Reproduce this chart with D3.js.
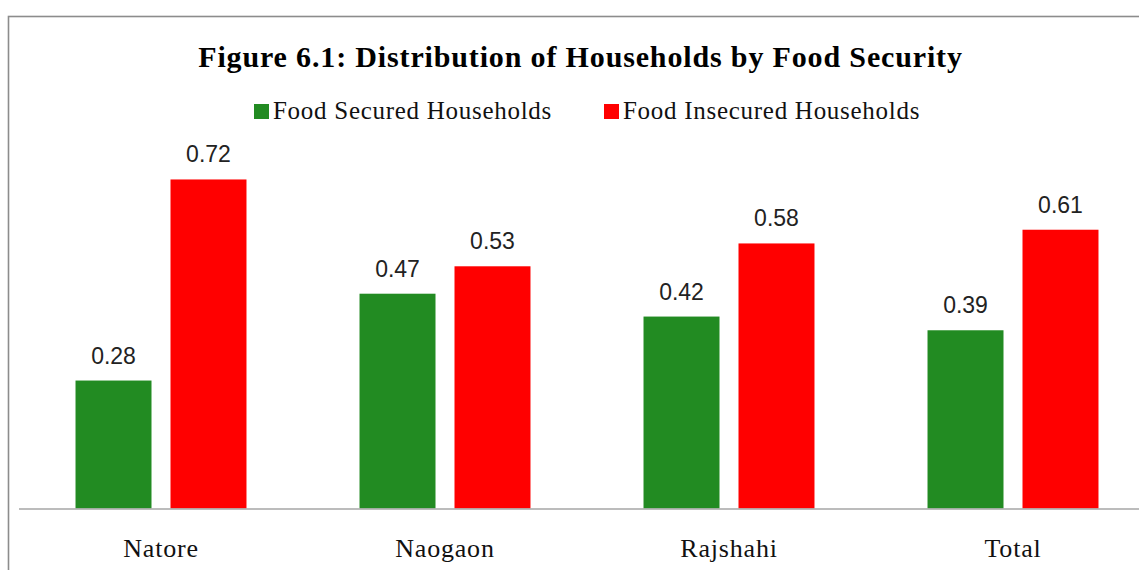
<!DOCTYPE html>
<html><head><meta charset="utf-8">
<script src="https://cdn.jsdelivr.net/npm/d3@7"></script>
<style>html,body{margin:0;padding:0;background:#fff;}svg{display:block;}</style>
</head><body>
<svg id="chart" width="1139" height="570"></svg>
<script>
const categories = ["Natore", "Naogaon", "Rajshahi", "Total"];
const seriesNames = ["Food Secured Households", "Food Insecured Households"];
const securedValues = [0.28, 0.47, 0.42, 0.39];
const insecuredValues = [0.72, 0.53, 0.58, 0.61];
const seriesColors = ["#228B22", "#FF0000"];
const titleText = "Figure 6.1: Distribution of Households by Food Security";

const svg = d3.select("#chart");
const serif = "'Liberation Serif', 'Times New Roman', serif";

// frame
svg.append("rect").attr("x", 8.5).attr("y", 16.5).attr("width", 1200).attr("height", 600)
  .attr("fill", "none").attr("stroke", "#8c8c8c").attr("stroke-width", 1.6);

const x0 = d3.scaleBand().domain(categories).range([19, 1155]).paddingInner(0).paddingOuter(0);
const x1 = d3.scaleBand().domain(seriesNames).range([0, x0.bandwidth()]).paddingInner(0.2).paddingOuter(0.595);
const y = d3.scaleLinear().domain([0, 0.8]).range([508.5, 508.5 - 0.8 * 457]);

const data = categories.map((c, i) => ({cat: c, vals: [securedValues[i], insecuredValues[i]]}));

const g = svg.append("g");
const groups = g.selectAll("g.grp").data(data).join("g").attr("class", "grp")
  .attr("transform", d => `translate(${x0(d.cat)},0)`);

groups.selectAll("rect").data(d => d.vals.map((v, j) => ({v, s: seriesNames[j], j})))
  .join("rect")
  .attr("x", d => x1(d.s)).attr("width", x1.bandwidth())
  .attr("y", d => y(d.v)).attr("height", d => y(0) - y(d.v))
  .attr("fill", d => seriesColors[d.j]);

groups.selectAll("text.val").data(d => d.vals.map((v, j) => ({v, s: seriesNames[j], j})))
  .join("text").attr("class", "val")
  .attr("x", d => x1(d.s) + x1.bandwidth() / 2)
  .attr("y", d => y(d.v) - 17)
  .attr("text-anchor", "middle")
  .attr("font-family", "'Liberation Sans', Arial, sans-serif")
  .attr("font-size", 23).attr("fill", "#222")
  .text(d => d3.format(".2f")(d.v));

// baseline axis
const xAxis = d3.axisBottom(x0).tickSize(0).tickPadding(0);
const ax = svg.append("g").attr("transform", `translate(0,${y(0)})`).call(xAxis);
ax.select(".domain").attr("d", `M19,0.5H1139`).attr("stroke", "#a6a6a6").attr("stroke-width", 1.5);
ax.selectAll("text").attr("y", 48).attr("dy", null)
  .attr("font-family", serif)
  .attr("font-size", 26).attr("letter-spacing", 0.8).attr("fill", "#111");

// title
svg.append("text").attr("x", 580.5).attr("y", 67).attr("text-anchor", "middle")
  .attr("font-family", serif)
  .attr("font-weight", "bold").attr("font-size", 30).attr("letter-spacing", 0.85).attr("fill", "#000")
  .text(titleText);

// legend
const legendItems = [
  {name: seriesNames[0], color: seriesColors[0], sx: 254, tx: 273},
  {name: seriesNames[1], color: seriesColors[1], sx: 604, tx: 623}
];
const lg = svg.append("g");
legendItems.forEach(it => {
  lg.append("rect").attr("x", it.sx).attr("y", 104).attr("width", 15).attr("height", 15).attr("fill", it.color);
  lg.append("text").attr("x", it.tx).attr("y", 119)
    .attr("font-family", serif)
    .attr("font-size", 25).attr("letter-spacing", 0.72).attr("fill", "#111").text(it.name);
});
</script>
</body></html>
